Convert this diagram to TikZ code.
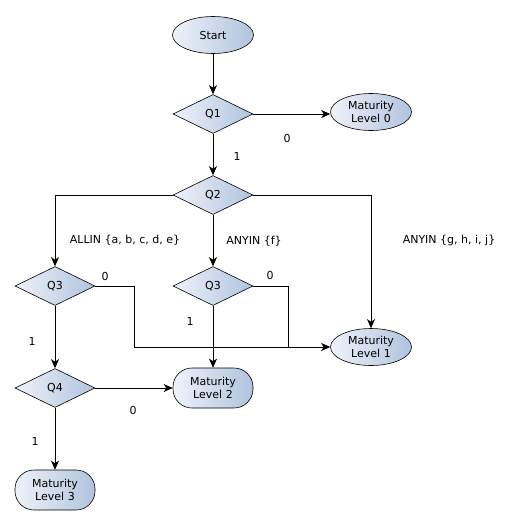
\documentclass[tikz,border=0pt]{standalone}
\usepackage{fontspec}
\setmainfont{DejaVu Sans}
\usetikzlibrary{shapes.geometric,arrows.meta}
\definecolor{gradlight}{HTML}{EEF2F9}
\definecolor{graddark}{HTML}{B0C3DE}
\begin{document}
\begin{tikzpicture}[x=1pt,y=-1pt,
  font=\fontsize{11}{12.5}\selectfont,
  fillgrad/.style={left color=gradlight, right color=graddark, draw=black, line width=0.6pt},
  oval/.style={fillgrad, ellipse, minimum width=81pt, minimum height=37pt, inner sep=0pt, align=center},
  decision/.style={fillgrad, diamond, minimum width=80pt, minimum height=39pt, inner sep=0pt, aspect=2},
  pill/.style={fillgrad, rounded corners=19pt, minimum width=80pt, minimum height=40pt, inner sep=0pt, align=center},
  link/.style={draw=black, line width=0.9pt, -{Stealth[length=9pt,width=8pt,inset=2.5pt]}},
  plain/.style={draw=black, line width=0.9pt},
  lbl/.style={inner sep=0pt}]
\useasboundingbox (0,0) rectangle (514,525);

% process nodes
\node[oval] (start) at (213,35) {Start};
\node[decision] (q1) at (213,114) {Q1};
\node[oval] (ml0) at (371,112) {Maturity\\Level 0};
\node[decision] (q2) at (213,195) {Q2};
\node[decision] (q3a) at (55,286) {Q3};
\node[decision] (q3b) at (213,286) {Q3};
\node[oval] (ml1) at (371,347) {Maturity\\Level 1};
\node[decision] (q4) at (55,388) {Q4};
\node[pill] (ml2) at (213,388) {Maturity\\Level 2};
\node[pill] (ml3) at (55,490) {Maturity\\Level 3};

% routing points
\coordinate (j1) at (134,347);
\coordinate (j2) at (288,347);

% connectors
\draw[link] (start) -- (q1);
\draw[link] (q1.east) -- (ml0.west |- q1.east);
\draw[link] (q1) -- (q2);
\draw[link] (q2.west) -| (q3a.north);
\draw[link] (q2) -- (q3b);
\draw[link] (q2.east) -| (ml1.north);
\draw[plain] (q3a.east) -| (j1);
\draw[link] (j1) -- (ml1.west);
\draw[plain] (q3b.east) -| (j2);
\draw[link] (q3a) -- (q4);
\draw[link] (q3b) -- (ml2);
\draw[link] (q4) -- (ml2);
\draw[link] (q4) -- (ml3);

% branch labels
\node[lbl] (l1) at (287,138) {0};
\node[lbl] (l2) at (237,156) {1};
\node[lbl] (l3) at (125,240) {ALLIN \{a, b, c, d, e\}};
\node[lbl] (l4) at (254,241) {ANYIN \{f\}};
\node[lbl] (l5) at (449,240) {ANYIN \{g, h, i, j\}};
\node[lbl] (l6) at (105,276) {0};
\node[lbl] (l7) at (270,275) {0};
\node[lbl] (l8) at (190,321) {1};
\node[lbl] (l9) at (32,341) {1};
\node[lbl] (l10) at (133,410) {0};
\node[lbl] (l11) at (35,441) {1};
\end{tikzpicture}
\end{document}
